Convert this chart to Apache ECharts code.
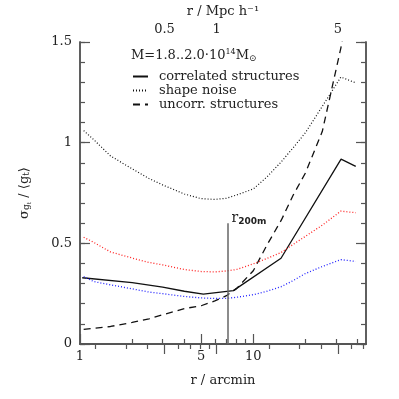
<!DOCTYPE html>
<html>
<head>
<meta charset="utf-8">
<script src="https://cdn.jsdelivr.net/npm/echarts@6/dist/echarts.min.js"></script>
<style>
  html, body { margin: 0; padding: 0; background: #fff; }
  #main { width: 399px; height: 399px; }
</style>
</head>
<body>
<div id="main"></div>
<script>
// radii (arcmin) for the smooth curves
var radius = [1.05, 1.2, 1.5, 2, 2.5, 3, 4, 5, 6, 7, 8, 10, 12, 14.5, 17, 20, 25, 32, 39];
var shapeNoise = [1.06, 1.015, 0.934, 0.87, 0.822, 0.79, 0.745, 0.722, 0.718, 0.724, 0.74, 0.77, 0.83, 0.905, 0.975, 1.05, 1.18, 1.326, 1.297];
var uncorr = [0.073, 0.078, 0.087, 0.107, 0.125, 0.145, 0.176, 0.19, 0.214, 0.24, 0.275, 0.364, 0.492, 0.615, 0.74, 0.85, 1.055, 1.47, 1.88];
var redNoise = [0.53, 0.505, 0.457, 0.427, 0.405, 0.393, 0.37, 0.36, 0.358, 0.363, 0.37, 0.398, 0.425, 0.455, 0.495, 0.535, 0.59, 0.66, 0.652];
var blueNoise = [0.335, 0.31, 0.294, 0.274, 0.258, 0.25, 0.236, 0.229, 0.226, 0.227, 0.232, 0.245, 0.262, 0.285, 0.315, 0.35, 0.385, 0.419, 0.41];
// correlated structures has its own sample radii
var corrRadius = [1.03, 2, 3, 4, 5.15, 7.67, 14.45, 32.1, 39];
var corr = [0.329, 0.305, 0.283, 0.262, 0.248, 0.265, 0.426, 0.918, 0.882];

var r200m = 7.1;
var r200mTop = 0.6;
var arcminPerMpc = 6.15;
var xMin = 1, xMax = 44.7;

var bottomLabels = [1, 5, 10];
var bottomMinor = [2, 3, 4, 6, 7, 8, 9, 20, 30, 40];
var topLabels = [0.5, 1, 5];
var topMinor = [0.2, 0.3, 0.4, 0.6, 0.7, 0.8, 0.9, 2, 3, 4, 6, 7];

function pairs(xs, ys) {
    return xs.map(function (x, i) { return [x, ys[i]]; });
}

var font = 'DejaVu Serif';
var axisColor = '#555';

var myChart = echarts.init(document.getElementById('main'));

function xAx(pos, min, max, labels, ticks, len, extra) {
    var a = {
        type: 'log',
        logBase: 10,
        position: pos,
        min: min,
        max: max,
        axisLine: { show: true, lineStyle: { color: axisColor, width: 1.5 } },
        axisTick: { show: true, inside: true, length: len, customValues: ticks, lineStyle: { color: axisColor, width: 1.2 } },
        axisLabel: labels ? { show: true, customValues: labels, color: '#222', fontFamily: font, fontSize: 13, margin: 6,
            formatter: function (v) { return String(Math.round(v * 10) / 10); } } : { show: false },
        splitLine: { show: false },
        minorTick: { show: false }
    };
    return Object.assign(a, extra || {});
}

function yAx(pos, interval, len, labels, extra) {
    var a = {
        type: 'value',
        position: pos,
        min: 0,
        max: 1.5,
        interval: interval,
        axisLine: { show: true, lineStyle: { color: axisColor, width: 1.5 } },
        axisTick: { show: true, inside: true, length: len, lineStyle: { color: axisColor, width: 1.2 } },
        axisLabel: labels ? { show: true, color: '#222', fontFamily: font, fontSize: 13, margin: 8,
            formatter: function (v) { return v === 0 ? '0' : String(v); } } : { show: false },
        splitLine: { show: false }
    };
    return Object.assign(a, extra || {});
}

var options = {
    animation: false,
    backgroundColor: '#fff',
    grid: { left: 80, right: 33, top: 34, bottom: 55 },
    title: {
        text: 'M=1.8..2.0·10{sup|14}M{sub|⊙}',
        left: 126,
        top: 43,
        textStyle: {
            fontFamily: font, fontSize: 13, fontWeight: 'normal', color: '#222',
            rich: {
                sup: { fontSize: 8, fontFamily: font, color: '#222', padding: [0, 0, 7, 0] },
                sub: { fontSize: 9, fontFamily: font, color: '#222', padding: [6, 0, 0, 0] }
            }
        }
    },
    legend: {
        orient: 'vertical',
        left: 127,
        top: 65,
        itemGap: 1,
        itemWidth: 15,
        itemHeight: 12,
        itemStyle: { opacity: 0 },
        data: ['correlated structures', 'shape noise', 'uncorr. structures'],
        textStyle: { fontFamily: font, fontSize: 13, color: '#222', padding: [0, 0, 0, 6] }
    },
    xAxis: [
        xAx('bottom', xMin, xMax, bottomLabels, bottomLabels, 10, {
            name: 'r / arcmin', nameLocation: 'middle', nameGap: 30,
            nameTextStyle: { fontFamily: font, fontSize: 13, color: '#222' }
        }),
        xAx('bottom', xMin, xMax, null, bottomMinor, 5),
        xAx('top', xMin / arcminPerMpc, xMax / arcminPerMpc, topLabels, topLabels, 10, {
            name: 'r / Mpc h⁻¹', nameLocation: 'middle', nameGap: 24,
            nameTextStyle: { fontFamily: font, fontSize: 13, color: '#222' }
        }),
        xAx('top', xMin / arcminPerMpc, xMax / arcminPerMpc, null, topMinor, 5)
    ],
    yAxis: [
        yAx('left', 0.5, 10, true, {
            name: 'σ{s|g}{ss|t} / ⟨g{s|t}⟩', nameLocation: 'middle', nameGap: 48, nameRotate: 90,
            nameTextStyle: { fontFamily: font, fontSize: 13, color: '#222',
                rich: {
                    s: { fontSize: 9, fontFamily: font, color: '#222', padding: [5, 0, 0, 0] },
                    ss: { fontSize: 6, fontFamily: font, color: '#222', padding: [9, 0, 0, 0] }
                } }
        }),
        yAx('left', 0.1, 5, false),
        yAx('right', 0.5, 10, false),
        yAx('right', 0.1, 5, false)
    ],
    series: [
        {
            name: 'correlated structures',
            type: 'line',
            data: pairs(corrRadius, corr),
            symbol: 'none',
            itemStyle: { color: '#111' },
            lineStyle: { color: '#111', width: 1.3, type: 'solid' },
            markLine: {
                silent: true,
                symbol: 'none',
                lineStyle: { color: '#666', width: 1.5, type: 'solid' },
                label: {
                    show: true,
                    position: 'end',
                    formatter: 'r{s|200m}',
                    align: 'left',
                    offset: [4, 8],
                    color: '#222',
                    fontFamily: font,
                    fontSize: 14,
                    rich: { s: { fontSize: 9, fontFamily: 'DejaVu Sans', fontWeight: 'bold', color: '#222', padding: [6, 0, 0, 0] } }
                },
                data: [[{ coord: [r200m, 0] }, { coord: [r200m, r200mTop] }]]
            }
        },
        {
            name: 'shape noise',
            type: 'line',
            data: pairs(radius, shapeNoise),
            symbol: 'none',
            itemStyle: { color: '#111' },
            lineStyle: { color: '#111', width: 1.2, type: [1, 2] }
        },
        {
            name: 'uncorr. structures',
            type: 'line',
            data: pairs(radius, uncorr),
            symbol: 'none',
            itemStyle: { color: '#111' },
            lineStyle: { color: '#111', width: 1.3, type: [7, 5] }
        },
        {
            name: 'shape noise red',
            type: 'line',
            data: pairs(radius, redNoise),
            symbol: 'none',
            lineStyle: { color: '#ff2020', width: 1.3, type: [1, 2] }
        },
        {
            name: 'shape noise blue',
            type: 'line',
            data: pairs(radius, blueNoise),
            symbol: 'none',
            lineStyle: { color: '#2020ff', width: 1.3, type: [1, 2] }
        }
    ]
};

myChart.setOption(options);
</script>
</body>
</html>
